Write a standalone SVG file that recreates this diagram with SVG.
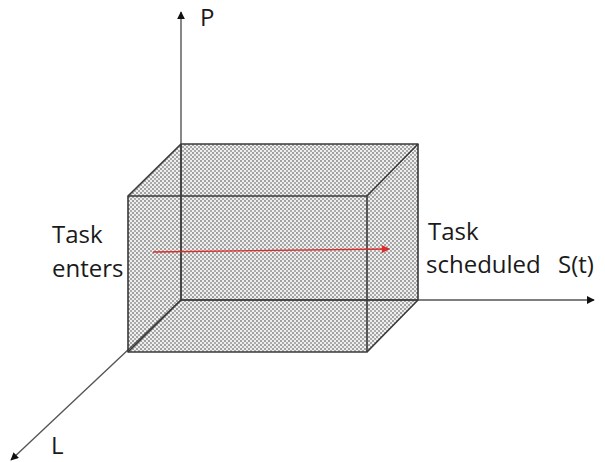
<svg xmlns="http://www.w3.org/2000/svg" width="605" height="462" viewBox="0 0 605 462">
  <style>
    .lbl { font-family: "Open Sans", "Liberation Sans", sans-serif; font-size: 24px; fill: #1a1a1a; }
    .axis { stroke: #555; stroke-width: 1.4; fill: none; }
    .edge { stroke: #3a3a3a; stroke-width: 1.6; fill: none; stroke-linejoin: round; }
    .face { fill: url(#dots); stroke: none; }
  </style>
  <defs>
    <!-- halftone-style dotted fill for the box faces -->
    <pattern id="dots" width="4" height="4" patternUnits="userSpaceOnUse">
      <rect width="4" height="4" fill="#efefef"/>
      <rect x="0" y="0" width="2" height="2" fill="#a0a0a0"/>
      <rect x="2" y="2" width="2" height="2" fill="#ababab"/>
    </pattern>
    <marker id="arrowBlack" viewBox="0 0 10 10" refX="9" refY="5" markerWidth="8" markerHeight="8" markerUnits="userSpaceOnUse" orient="auto">
      <path d="M0,0 L10,5 L0,10 z" fill="#111"/>
    </marker>
    <marker id="arrowRed" viewBox="0 0 10 10" refX="9" refY="5" markerWidth="9" markerHeight="8" markerUnits="userSpaceOnUse" orient="auto">
      <path d="M0,0 L10,5 L0,10 z" fill="#e02a2a"/>
    </marker>
  </defs>

  <!-- box faces -->
  <g id="box">
    <polygon class="face" points="128,196 181,144 418,144 367,196"/>
    <polygon class="face" points="367,196 418,144 418,300 367,352"/>
    <polygon class="face" points="128,196 367,196 367,352 128,352"/>
  </g>

  <!-- axes and connectors -->
  <g id="connectors">
    <line class="axis" x1="181" y1="300" x2="181" y2="12" marker-end="url(#arrowBlack)"/>
    <line class="axis" x1="181" y1="300" x2="594" y2="300" marker-end="url(#arrowBlack)"/>
    <line class="axis" x1="181" y1="300" x2="11" y2="460" marker-end="url(#arrowBlack)"/>
    <!-- hidden back edges -->
    <line class="edge" x1="181" y1="144" x2="181" y2="300" stroke-width="1.2"/>
    <line class="edge" x1="181" y1="300" x2="418" y2="300" stroke-width="1.2"/>
    <line class="edge" x1="128" y1="352" x2="181" y2="300" stroke-width="1.2"/>
    <!-- visible box edges -->
    <polygon class="edge" points="128,196 367,196 367,352 128,352"/>
    <polyline class="edge" points="128,196 181,144 418,144 367,196"/>
    <polyline class="edge" points="418,144 418,300 367,352"/>
    <!-- task flow through the box -->
    <line x1="153" y1="252" x2="389" y2="249" stroke="#e02a2a" stroke-width="1.3" marker-end="url(#arrowRed)"/>
  </g>

  <!-- labels -->
  <g id="labels">
    <text class="lbl" x="200" y="26">P</text>
    <text class="lbl" x="51" y="454">L</text>
    <text class="lbl" x="52" y="243">Task</text>
    <text class="lbl" x="52" y="277">enters</text>
    <text class="lbl" x="428" y="240">Task</text>
    <text class="lbl" x="426" y="273">scheduled</text>
    <text class="lbl" x="558" y="273">S(t)</text>
  </g>
</svg>
